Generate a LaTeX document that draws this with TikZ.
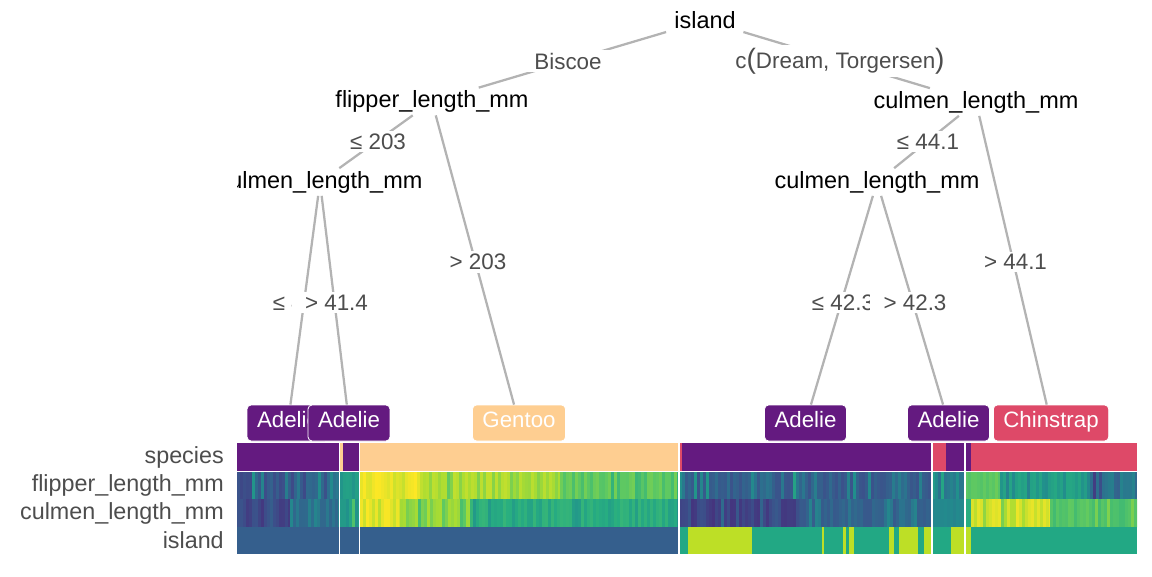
\documentclass[tikz,border=0pt]{standalone}
\usepackage{fontspec}
\setmainfont{Liberation Sans}

\definecolor{adelie}{HTML}{641A80}
\definecolor{gentoo}{HTML}{FECE91}
\definecolor{chinstrap}{HTML}{DE4968}
\definecolor{biscoe}{HTML}{355F8D}
\definecolor{dream}{HTML}{22A884}
\definecolor{torgersen}{HTML}{BDDF26}
\definecolor{edgegray}{HTML}{B3B3B3}
\definecolor{labgray}{HTML}{4D4D4D}
\definecolor{vir0}{HTML}{440154}
\definecolor{vir1}{HTML}{472D7B}
\definecolor{vir2}{HTML}{3B528B}
\definecolor{vir3}{HTML}{2C728E}
\definecolor{vir4}{HTML}{21908C}
\definecolor{vir5}{HTML}{27AD81}
\definecolor{vir6}{HTML}{5DC863}
\definecolor{vir7}{HTML}{AADC32}
\definecolor{vir8}{HTML}{FDE725}
\definecolor{vir9}{HTML}{FDE725}

\newcommand{\parenfont}{\fontsize{21}{21}\selectfont}
\newcommand{\stripes}[6]{%
  \pgfmathsetmacro{\xnext}{#1+3}%
  \foreach \x in {#1,\xnext,...,#2}{%
    \pgfmathsetmacro{\val}{#3+(#4-#3)*rnd*rnd}%
    \pgfmathtruncatemacro{\va}{floor(\val)}%
    \pgfmathtruncatemacro{\vb}{\va+1}%
    \pgfmathtruncatemacro{\vp}{100-100*(\val-\va)}%
    \pgfmathsetmacro{\xend}{min(\x+3.6,#2)}%
    \fill[vir\va!\vp!vir\vb] (\x,#5) rectangle (\xend,#6);
  }%
}

\begin{document}
\begin{tikzpicture}[x=0.75pt,y=-0.75pt,
  splitnode/.style={fill=white,inner xsep=10pt,inner ysep=2pt,font=\fontsize{17.6}{20}\selectfont},
  condlab/.style={fill=white,text=labgray,inner xsep=10pt,inner ysep=2pt,font=\fontsize{16.8}{19}\selectfont},
  leafbox/.style={rounded corners=3pt,draw=white,line width=0.6pt,text=white,minimum height=27pt,
    inner xsep=7.5pt,text height=0.85em,text depth=0.15em,font=\fontsize{16.7}{19}\selectfont},
  edgeline/.style={draw=edgegray,line width=1.7pt},
  rowlab/.style={anchor=east,inner sep=0pt,text=labgray,font=\fontsize{17.5}{20}\selectfont},
  gapline/.style={draw=white,line width=1pt}]
\useasboundingbox (0,0) rectangle (1152,576);

\begin{scope}
\clip (237,0) rectangle (1152,442);
\node[splitnode] (island) at (705,20.5) {island};
\node[splitnode] (flipper) at (432,101.5) {flipper\_length\_mm};
\node[splitnode] (culmenR) at (976,102) {culmen\_length\_mm};
\node[splitnode] (culmenA) at (320,182) {culmen\_length\_mm};
\node[splitnode] (culmenB) at (877,182) {culmen\_length\_mm};

\node[leafbox,fill=adelie] (leafA) at (288,423) {Adelie};
\node[leafbox,fill=adelie] (leafB) at (349,423) {Adelie};
\node[leafbox,fill=gentoo] (leafC) at (519,423) {Gentoo};
\node[leafbox,fill=adelie] (leafD) at (805.5,423) {Adelie};
\node[leafbox,fill=adelie] (leafE) at (948.5,423) {Adelie};
\node[leafbox,fill=chinstrap] (leafF) at (1051,423) {Chinstrap};

\draw[edgeline] (island) -- (flipper);
\draw[edgeline] (island) -- (culmenR);
\draw[edgeline] (flipper) -- (culmenA);
\draw[edgeline] (flipper) -- (leafC);
\draw[edgeline] (culmenA) -- (leafA);
\draw[edgeline] (culmenA) -- (leafB);
\draw[edgeline] (culmenR) -- (culmenB);
\draw[edgeline] (culmenR) -- (leafF);
\draw[edgeline] (culmenB) -- (leafD);
\draw[edgeline] (culmenB) -- (leafE);

\node[condlab] (bisc) at (568,61) {Biscoe};
\node[condlab] (dreamtorg) at (840,61) {c{\parenfont(}Dream, Torgersen{\parenfont)}};
\node[condlab] (le203) at (378,141.5) {≤ 203};
\node[condlab] (gt203) at (478,262) {> 203};
\node[condlab] (le441) at (928,141.5) {≤ 44.1};
\node[condlab] (gt441) at (1015.5,262) {> 44.1};
\node[condlab] (le414) at (304,302.5) {≤ 41.4};
\node[condlab] (gt414) at (336.5,302.5) {> 41.4};
\node[condlab] (le423) at (843,302.5) {≤ 42.3};
\node[condlab] (gt423) at (915,302.5) {> 42.3};
\end{scope}

\node[rowlab] (rspecies) at (224,457) {species};
\node[rowlab] (rflipper) at (224,485.5) {flipper\_length\_mm};
\node[rowlab] (rculmen) at (224,513) {culmen\_length\_mm};
\node[rowlab] (risland) at (224,540.5) {island};

\foreach \xa/\xb/\col in {237/339.5/adelie, 339.5/343/gentoo, 343/359.5/adelie, 359.5/679/gentoo,
    679/682/chinstrap, 682/932/adelie, 932/946/chinstrap, 946/971/adelie, 971/1137/chinstrap}
  \fill[\col] (\xa,443) rectangle (\xb,471.5);

\pgfmathsetseed{2024}
\stripes{237}{339.5}{1.7}{5}{471.5}{499.4}
\stripes{339.5}{359.5}{4.6}{3.8}{471.5}{499.4}
\stripes{359.5}{420}{8}{6.8}{471.5}{499.4}
\stripes{420}{560}{7.3}{5.6}{471.5}{499.4}
\stripes{560}{679}{6.3}{5}{471.5}{499.4}
\stripes{679}{932}{2.0}{4.8}{471.5}{499.4}
\stripes{932}{965}{3}{5.5}{471.5}{499.4}
\stripes{965}{1000}{5.8}{6.6}{471.5}{499.4}
\stripes{1000}{1090}{4.8}{3}{471.5}{499.4}
\stripes{1090}{1137}{3.6}{0.8}{471.5}{499.4}

\stripes{237}{290}{1.3}{2.8}{499}{527.4}
\stripes{290}{339.5}{2.6}{4}{499}{527.4}
\stripes{339.5}{359.5}{4}{6.8}{499}{527.4}
\stripes{359.5}{400}{8}{7}{499}{527.4}
\stripes{400}{470}{7}{5}{499}{527.4}
\stripes{470}{679}{5.3}{4}{499}{527.4}
\stripes{679}{800}{1.2}{3.2}{499}{527.4}
\stripes{800}{932}{2.2}{3.9}{499}{527.4}
\stripes{932}{965}{3.8}{3.3}{499}{527.4}
\stripes{965}{971}{5}{5.5}{499}{527.4}
\stripes{971}{1050}{7.8}{6.3}{499}{527.4}
\stripes{1050}{1137}{5.5}{6.8}{499}{527.4}

\foreach \xa/\xb/\col in {237/679/biscoe, 679/688/dream, 688/752/torgersen, 752/822/dream,
    822/824/torgersen, 824/843/dream, 843/846/torgersen, 846/849/dream, 849/854/torgersen,
    854/889/dream, 889/894/torgersen, 894/899/dream, 899/918/torgersen, 918/924/dream,
    924/932/torgersen, 932/951/dream, 951/971/torgersen, 971/1137/dream}
  \fill[\col] (\xa,527) rectangle (\xb,554);

\draw[gapline] (237,471.5) -- (1137,471.5);
\foreach \xs in {339.5,359.5,679,932,965}
  \draw[gapline] (\xs,443) -- (\xs,554);
\end{tikzpicture}
\end{document}
